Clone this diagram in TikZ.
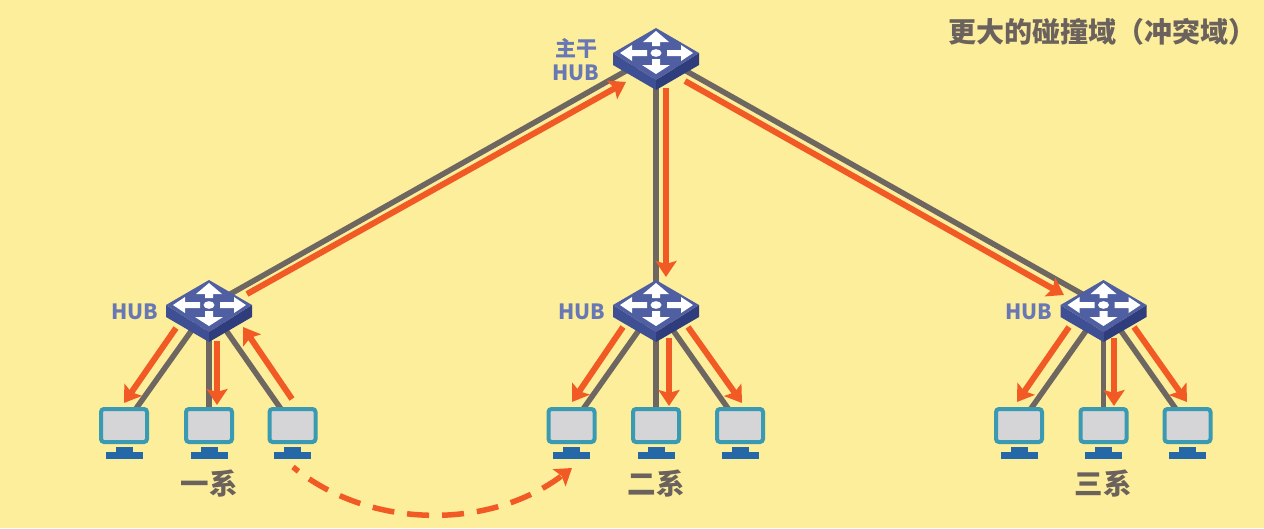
\documentclass[tikz,border=0pt]{standalone}
\usepackage{fontspec}
\setmainfont{Noto Sans CJK SC}
\usetikzlibrary{arrows.meta,calc}
\definecolor{bgc}{HTML}{FCEE9A}
\definecolor{linec}{HTML}{6E6660}
\definecolor{orangec}{HTML}{F15A24}
\definecolor{labelc}{HTML}{6B625E}
\definecolor{hubtext}{HTML}{6878B4}
\definecolor{hubtop}{HTML}{4F5FA2}
\definecolor{hubleft}{HTML}{3F4F93}
\definecolor{hubright}{HTML}{2F3D7C}
\definecolor{pcframe}{HTML}{3A9AB2}
\definecolor{pcscreen}{HTML}{D5D5D8}
\definecolor{pcstand}{HTML}{2468A8}
\pgfdeclarelayer{edges}
\pgfdeclarelayer{bgl}
\pgfsetlayers{bgl,edges,main}
\tikzset{
  wire/.style={draw=linec,line width=5.5pt},
  flow/.style={draw=orangec,line width=6pt,-{Stealth[length=16pt,width=21pt,inset=3pt]}},
  hubnode/.style={inner sep=0pt,minimum width=86pt,minimum height=50pt},
  pcnode/.style={draw=pcframe,fill=pcscreen,line width=4pt,rounded corners=3pt,inner sep=0pt,minimum width=46pt,minimum height=33pt},
  hublabel/.style={text=hubtext,font=\bfseries\fontsize{21}{25}\selectfont,inner sep=0pt,align=center},
  dept/.style={text=labelc,font=\bfseries\fontsize{28.5}{32}\selectfont,inner sep=0pt},
}
\newcommand\hubat[2]{%
  \node[hubnode] (#1) at (#2) {};
  \begin{scope}[shift={(#2)}]
    \fill[hubleft] (-43,-1) -- (0,26) -- (0,36) -- (-43,11) -- cycle;
    \fill[hubright] (43,-1) -- (0,26) -- (0,36) -- (43,11) -- cycle;
    \fill[hubtop] (0,-26) -- (43,-1) -- (0,26) -- (-43,-1) -- cycle;
    \fill[white] (0,-1) ellipse [x radius=5.5,y radius=3.8];
    \fill[white] (-36,-1) -- (-24,-9) -- (-24,-4) -- (-9,-4) -- (-9,2) -- (-24,2) -- (-24,7) -- cycle;
    \fill[white] (37,-1) -- (25,-9) -- (25,-4) -- (11,-4) -- (11,2) -- (25,2) -- (25,7) -- cycle;
    \fill[white] (0,-23) -- (13,-12) -- (4,-12) -- (4,-8) -- (-4,-8) -- (-4,-12) -- (-13,-12) -- cycle;
    \fill[white] (0,20) -- (14,11) -- (4,11) -- (4,5) -- (-4,5) -- (-4,11) -- (-14,11) -- cycle;
  \end{scope}}
\newcommand\pcat[2]{%
  \node[pcnode] (#1) at (#2) {};
  \begin{scope}[shift={(#2)}]
    \fill[pcstand] (-8.5,21.5) rectangle (8.5,27);
    \fill[pcstand] (-18.5,26) rectangle (18.5,33);
  \end{scope}}
\begin{document}
\begin{tikzpicture}[x=1pt,y=-1pt]
\useasboundingbox (0,0) rectangle (1264,528);
\begin{pgfonlayer}{bgl}
  \fill[bgc] (0,0) rectangle (1264,528);
\end{pgfonlayer}

\hubat{h0}{656,54}
\hubat{h1}{209,306}
\hubat{h2}{656,306}
\hubat{h3}{1103.5,306}

\pcat{a1}{124,425.5}\pcat{a2}{209,425.5}\pcat{a3}{292.5,425.5}
\pcat{b1}{571.5,425.5}\pcat{b2}{656,425.5}\pcat{b3}{740,425.5}
\pcat{c1}{1019,425.5}\pcat{c2}{1103.5,425.5}\pcat{c3}{1187.5,425.5}

\begin{pgfonlayer}{edges}
  \draw[wire] (h0.center) -- (h1.center);
  \draw[wire] (h0.center) -- (h2.center);
  \draw[wire] (h0.center) -- (h3.center);
  \foreach \h/\p/\q/\r in {h1/a1/a2/a3,h2/b1/b2/b3,h3/c1/c2/c3}{
    \draw[wire] (\h.center) -- (\p.center);
    \draw[wire] (\h.center) -- (\q.center);
    \draw[wire] (\h.center) -- (\r.center);
  }
\end{pgfonlayer}

% free ends of the red flows
\coordinate (t01) at (247,294);  \coordinate (e01) at (626,82);
\coordinate (t02) at (666,88);   \coordinate (e02) at (666,277);
\coordinate (t03) at (685,81);   \coordinate (e03) at (1064,295);
\draw[flow] (t01) -- (e01);
\draw[flow] (t02) -- (e02);
\draw[flow] (t03) -- (e03);

\coordinate (ta1) at (176,328); \coordinate (ea1) at (124,403);
\coordinate (ta2) at (217,341); \coordinate (ea2) at (217,405);
\coordinate (ta3) at (292,399); \coordinate (ea3) at (243,327);
\draw[flow] (ta1) -- (ea1);
\draw[flow] (ta2) -- (ea2);
\draw[flow] (ta3) -- (ea3);

\coordinate (tb1) at (623,327); \coordinate (eb1) at (572,402);
\coordinate (tb2) at (669,338); \coordinate (eb2) at (669,406);
\coordinate (tb3) at (688,327); \coordinate (eb3) at (742,403);
\draw[flow] (tb1) -- (eb1);
\draw[flow] (tb2) -- (eb2);
\draw[flow] (tb3) -- (eb3);

\coordinate (tc1) at (1069,327); \coordinate (ec1) at (1017,402);
\coordinate (tc2) at (1114,338); \coordinate (ec2) at (1114,406);
\coordinate (tc3) at (1134,327); \coordinate (ec3) at (1187,402);
\draw[flow] (tc1) -- (ec1);
\draw[flow] (tc2) -- (ec2);
\draw[flow] (tc3) -- (ec3);

\coordinate (d1) at (293,467);
\coordinate (d2) at (572,468);
\draw[orangec,line width=5.5pt,dash pattern=on 7pt off 13pt on 22pt off 13pt on 22pt off 13pt on 22pt off 13pt on 22pt off 13pt on 22pt off 13pt on 22pt off 13pt on 22pt off 13pt on 22pt off 13pt,-{Stealth[length=16pt,width=21pt,inset=3pt]}]
  (d1) .. controls (370,530) and (490,530) .. (d2);

\node[hublabel] (l0) at (576,60) {主干\\[-1pt]HUB};
\node[hublabel] (l1) at (134.5,312) {HUB};
\node[hublabel] (l2) at (581.5,312) {HUB};
\node[hublabel] (l3) at (1029,312) {HUB};
\node[dept] (n1) at (209,484) {一系};
\node[dept] (n2) at (656,484) {二系};
\node[dept] (n3) at (1103,484) {三系};
\node[dept,font=\bfseries\fontsize{28}{32}\selectfont] (title) at (1102,32) {更大的碰撞域（冲突域）};
\end{tikzpicture}
\end{document}
